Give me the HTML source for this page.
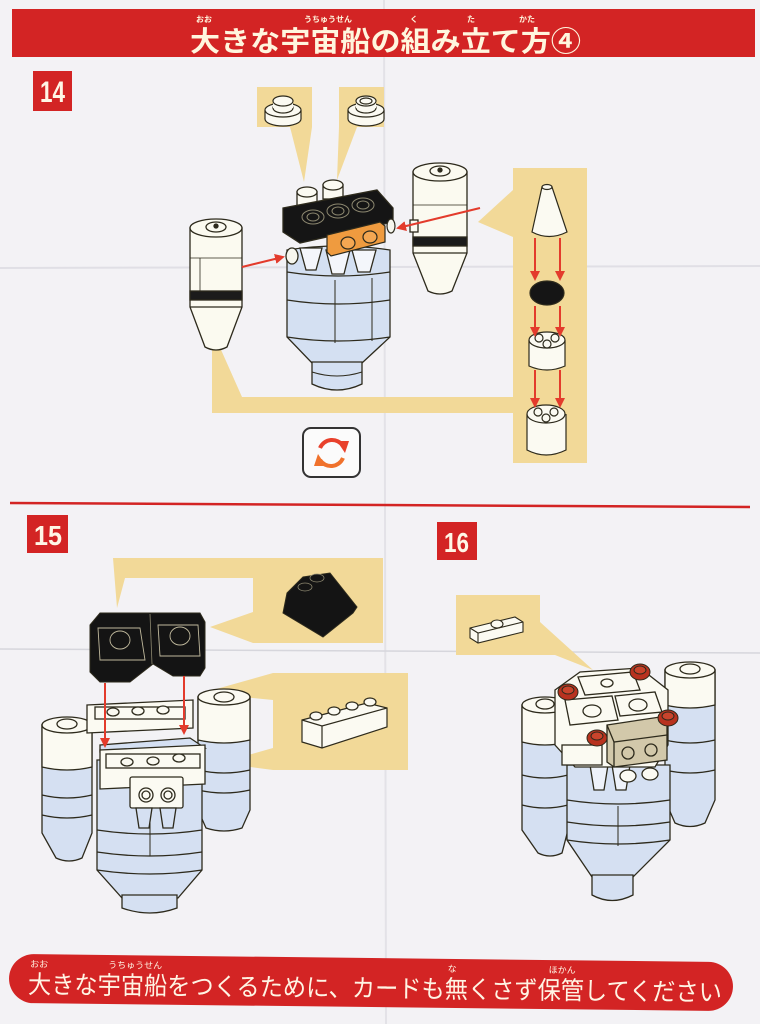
<!DOCTYPE html>
<html><head><meta charset="utf-8">
<style>
html,body{margin:0;padding:0;background:#f3f2f5;}
svg{display:block;}
</style></head><body>
<svg width="760" height="1024" viewBox="0 0 760 1024" xmlns="http://www.w3.org/2000/svg" font-family="'Liberation Sans','Noto Sans CJK JP',sans-serif">
<defs>
<marker id="ah" viewBox="0 0 10 10" refX="8" refY="5" markerWidth="5" markerHeight="5" orient="auto"><path d="M0,0 L10,5 L0,10 Z" fill="#e33b2c"/></marker>
</defs>
<rect width="760" height="1024" fill="#f3f2f5"/>
<!-- fold lines -->
<line x1="384" y1="0" x2="386" y2="1024" stroke="#e3e2e7" stroke-width="2"/>
<line x1="0" y1="268" x2="760" y2="266" stroke="#e0dfe5" stroke-width="2"/>
<line x1="0" y1="649" x2="760" y2="653" stroke="#d6d6dc" stroke-width="1.5"/>

<!-- HEADER -->
<rect x="12" y="9" width="743" height="48" fill="#d32424"/>
<text x="190" y="51" font-size="28" font-weight="bold" fill="#fff6de" textLength="391" lengthAdjust="spacingAndGlyphs" font-family="'Noto Sans CJK JP',sans-serif">大きな宇宙船の組み立て方④</text>
<g font-size="8" fill="#fff6de" text-anchor="middle" font-family="'Noto Sans CJK JP',sans-serif" font-weight="bold">
<text x="204" y="22">おお</text>
<text x="328" y="22">うちゅうせん</text>
<text x="414" y="22">く</text>
<text x="471" y="22">た</text>
<text x="527" y="22">かた</text>
</g>

<!-- badges -->
<rect x="33" y="71" width="39" height="40" fill="#d32424"/>
<text x="40" y="102" font-size="30" font-weight="bold" fill="#fff6e6" textLength="25" lengthAdjust="spacingAndGlyphs">14</text>
<rect x="27" y="515" width="41" height="38" fill="#d32424"/>
<text x="34" y="545" font-size="28" font-weight="bold" fill="#fff6e6" textLength="28" lengthAdjust="spacingAndGlyphs">15</text>
<rect x="437" y="522" width="40" height="38" fill="#d32424"/>
<text x="444" y="552" font-size="28" font-weight="bold" fill="#fff6e6" textLength="25" lengthAdjust="spacingAndGlyphs">16</text>

<!-- separator -->
<line x1="10" y1="503" x2="750" y2="507" stroke="#d32424" stroke-width="2.5"/>

<!-- ===== PANEL 14 ===== -->
<g fill="#f2d998">
<rect x="257" y="87" width="55" height="40"/>
<polygon points="290,127 312,127 304,182"/>
<rect x="339" y="87" width="45" height="40"/>
<polygon points="339,127 357,127 337,180"/>
<rect x="513" y="168" width="74" height="295"/>
<polygon points="513,190 478,222 513,237"/>
<polygon points="212,343 218,343 242,397 513,397 513,413 212,413"/>
</g>
<g stroke="#2d2a1c" stroke-width="1.2" fill="#fbfaf2">
<ellipse cx="283" cy="119" rx="18" ry="7"/>
<rect x="265" y="110" width="36" height="9" stroke="none"/>
<line x1="265" y1="110" x2="265" y2="119"/><line x1="301" y1="110" x2="301" y2="119"/>
<ellipse cx="283" cy="110" rx="18" ry="7"/>
<ellipse cx="283" cy="108" rx="10" ry="5"/>
<rect x="273" y="101" width="20" height="7" stroke="none"/>
<ellipse cx="283" cy="101" rx="10" ry="5"/>
<ellipse cx="366" cy="119" rx="18" ry="7"/>
<rect x="348" y="110" width="36" height="9" stroke="none"/>
<line x1="348" y1="110" x2="348" y2="119"/><line x1="384" y1="110" x2="384" y2="119"/>
<ellipse cx="366" cy="110" rx="18" ry="7"/>
<ellipse cx="366" cy="108" rx="10" ry="5"/>
<rect x="356" y="101" width="20" height="7" stroke="none"/>
<ellipse cx="366" cy="101" rx="10" ry="5"/>
<ellipse cx="366" cy="101" rx="6" ry="3"/>
</g>

<!-- left booster 14 -->
<g stroke="#2d2a1c" stroke-width="1.3">
<path d="M190,228 L190,307 L205,347 Q216,353 227,347 L242,307 L242,228 Z" fill="#fbfaf0"/>
<rect x="190" y="291" width="52" height="9" fill="#1b1b1b"/>
<line x1="190" y1="307" x2="242" y2="307"/>
<line x1="190" y1="258" x2="242" y2="258" stroke-width="0.8"/>
<line x1="200" y1="258" x2="200" y2="291" stroke-width="0.8"/>
<ellipse cx="216" cy="228" rx="26" ry="9" fill="#fbfaf0"/>
<ellipse cx="216" cy="227" rx="10" ry="5" fill="#fbfaf0"/>
<circle cx="216" cy="226" r="2" fill="#2d2a1c"/>
</g>
<!-- right booster 14 -->
<g stroke="#2d2a1c" stroke-width="1.3">
<path d="M413,172 L413,253 L428,291 Q440,297 452,291 L467,253 L467,172 Z" fill="#fbfaf0"/>
<rect x="413" y="237" width="54" height="9" fill="#1b1b1b"/>
<line x1="413" y1="253" x2="467" y2="253"/>
<line x1="413" y1="205" x2="467" y2="205" stroke-width="0.8"/>
<ellipse cx="440" cy="172" rx="27" ry="9" fill="#fbfaf0"/>
<ellipse cx="440" cy="171" rx="10" ry="5" fill="#fbfaf0"/>
<circle cx="440" cy="170" r="2" fill="#2d2a1c"/>
<rect x="410" y="220" width="8" height="12" fill="#fbfaf0"/>
</g>
<!-- central body 14 -->
<g stroke="#2d2a1c" stroke-width="1.3">
<path d="M287,250 Q338,242 390,250 L390,337 L362,363 L312,363 L287,337 Z" fill="#d4e0f2"/>
<path d="M287,272 Q338,280 390,272" fill="none"/>
<path d="M287,300 Q338,308 390,300" fill="none"/>
<path d="M287,337 Q338,345 390,337" fill="none"/>
<line x1="335" y1="280" x2="335" y2="343" stroke-width="1"/>
<line x1="372" y1="278" x2="372" y2="341" stroke-width="1"/>
<path d="M312,362 L362,362 L362,384 Q337,396 312,384 Z" fill="#d4e0f2"/>
<path d="M312,372 Q337,380 362,372" fill="none" stroke-width="1"/>
<polygon points="300,248 322,248 316,270 306,270" fill="#f4f6fb"/>
<polygon points="326,250 350,250 344,274 332,274" fill="#f4f6fb"/>
<polygon points="352,250 376,250 370,272 358,272" fill="#f4f6fb"/>
<ellipse cx="292" cy="256" rx="6" ry="8" fill="#f6f6ee"/>
<rect x="297" y="192" width="20" height="14" fill="#fbfaf2"/>
<ellipse cx="307" cy="192" rx="10" ry="5" fill="#fbfaf2"/>
<rect x="323" y="185" width="20" height="14" fill="#fbfaf2"/>
<ellipse cx="333" cy="185" rx="10" ry="5" fill="#fbfaf2"/>
<path d="M283,208 L377,190 L393,208 L393,222 L300,243 L283,232 Z" fill="#151515"/>
</g>
<g stroke="#8d8870" stroke-width="1" fill="#151515">
<ellipse cx="313" cy="217" rx="11" ry="7"/><ellipse cx="313" cy="217" rx="6" ry="4"/>
<ellipse cx="338" cy="211" rx="11" ry="7"/><ellipse cx="338" cy="211" rx="6" ry="4"/>
<ellipse cx="363" cy="205" rx="11" ry="7"/><ellipse cx="363" cy="205" rx="6" ry="4"/>
</g>
<g stroke="#2d2a1c" stroke-width="1.2">
<path d="M327,235 L380,222 L385,226 L385,242 L331,256 L327,252 Z" fill="#ef9b3f"/>
<ellipse cx="348" cy="243" rx="7" ry="6" fill="#f4a752"/>
<ellipse cx="370" cy="237" rx="7" ry="6" fill="#f4a752"/>
<ellipse cx="391" cy="226" rx="4" ry="7" fill="#f6f6ee"/>
</g>
<!-- right column parts -->
<g stroke="#2d2a1c" stroke-width="1.2">
<path d="M542,187 L552,187 L567,232 Q549,241 532,232 Z" fill="#fbfaf2"/>
<ellipse cx="547" cy="187" rx="5" ry="2.5" fill="#fbfaf2"/>
<ellipse cx="547" cy="293" rx="17" ry="12" fill="#151515"/>
<rect x="529" y="340" width="36" height="26" fill="#fbfaf2" stroke="none"/>
<path d="M529,340 L529,366 Q547,374 565,366 L565,340" fill="#fbfaf2"/>
<ellipse cx="547" cy="340" rx="18" ry="8" fill="#fbfaf2"/>
<circle cx="539" cy="338" r="4" fill="#fbfaf2"/><circle cx="555" cy="338" r="4" fill="#fbfaf2"/>
<circle cx="547" cy="344" r="4" fill="#fbfaf2"/>
<path d="M527,414 L527,450 Q546,460 566,450 L566,414" fill="#fbfaf2"/>
<ellipse cx="546" cy="414" rx="19" ry="9" fill="#fbfaf2"/>
<circle cx="538" cy="412" r="4" fill="#fbfaf2"/><circle cx="554" cy="412" r="4" fill="#fbfaf2"/>
<circle cx="546" cy="418" r="4" fill="#fbfaf2"/>
</g>
<g stroke="#e33b2c" stroke-width="2" marker-end="url(#ah)">
<line x1="242" y1="267" x2="283" y2="257"/>
<line x1="480" y1="208" x2="398" y2="228"/>
<line x1="535" y1="238" x2="535" y2="279"/><line x1="560" y1="238" x2="560" y2="279"/>
<line x1="535" y1="306" x2="535" y2="335"/><line x1="560" y1="306" x2="560" y2="335"/>
<line x1="535" y1="370" x2="535" y2="406"/><line x1="560" y1="370" x2="560" y2="406"/>
</g>
<!-- sync icon -->
<rect x="303" y="428" width="57" height="49" rx="8" fill="#fbfbfb" stroke="#333" stroke-width="2"/>
<path d="M320,448 A13,13 0 0 1 343,446" fill="none" stroke="#e8412c" stroke-width="4"/>
<polygon points="337,441 349,441 345,453" fill="#e8412c"/>
<path d="M343,458 A13,13 0 0 1 320,460" fill="none" stroke="#f0722c" stroke-width="4"/>
<polygon points="326,466 314,466 318,454" fill="#f0722c"/>

<!-- ===== PANEL 15 ===== -->
<g fill="#f2d998">
<polygon points="113,558 253,558 253,578 125,578 117,608"/>
<rect x="253" y="558" width="130" height="85"/>
<polygon points="253,612 210,627 253,643"/>
<rect x="273" y="673" width="135" height="97"/>
<polygon points="273,673 202,693 273,700"/>
<polygon points="273,748 220,763 273,770"/>
</g>
<path d="M287,593 L303,577 L330,573 L357,607 L353,613 L323,637 L283,613 Z" fill="#141414" stroke="#2d2a1c"/>
<g fill="#141414" stroke="#8d8870" stroke-width="0.8">
<ellipse cx="317" cy="578" rx="7" ry="4"/><ellipse cx="305" cy="587" rx="7" ry="4"/>
</g>
<g stroke="#2d2a1c" stroke-width="1.2" fill="#fbfaf2">
<path d="M302,720 L367,703 L387,708 L387,727 L322,748 L302,742 Z"/>
<path d="M302,720 L322,726 L387,708" fill="none"/>
<line x1="322" y1="726" x2="322" y2="748"/>
<ellipse cx="316" cy="716" rx="6" ry="4"/><ellipse cx="334" cy="711" rx="6" ry="4"/>
<ellipse cx="352" cy="706" rx="6" ry="4"/><ellipse cx="370" cy="702" rx="6" ry="4"/>
</g>
<path d="M90,625 L100,613 L200,613 L205,622 L205,668 L200,676 L173,676 L153,664 L130,682 L100,682 L90,672 Z" fill="#141414" stroke="#2d2a1c"/>
<line x1="150" y1="614" x2="152" y2="664" stroke="#8d8870" stroke-width="0.8"/>
<g fill="none" stroke="#bfb89c" stroke-width="0.9">
<ellipse cx="120" cy="640" rx="10" ry="9"/><ellipse cx="180" cy="636" rx="10" ry="9"/>
<path d="M98,628 L140,628 L145,660 L100,660 Z"/><path d="M158,625 L198,625 L200,656 L160,656 Z"/>
</g>
<g stroke="#2d2a1c" stroke-width="1.3">
<path d="M198,697 L198,810 L206,828 Q224,834 242,828 L250,810 L250,697 Z" fill="#d5e0f2"/>
<path d="M198,697 L198,740 Q224,746 250,740 L250,697 Z" fill="#fbfaf2"/>
<path d="M198,770 Q224,776 250,770" fill="none"/>
<path d="M198,790 Q224,796 250,790" fill="none"/>
<ellipse cx="224" cy="697" rx="26" ry="8" fill="#fbfaf2"/>
<ellipse cx="224" cy="697" rx="10" ry="5" fill="#fbfaf2"/>
<path d="M97,760 L202,760 L202,870 L178,898 L122,898 L97,870 Z" fill="#d5e0f2"/>
<path d="M97,830 Q150,838 202,830" fill="none"/>
<path d="M97,852 Q150,860 202,852" fill="none"/>
<path d="M97,870 Q150,878 202,870" fill="none"/>
<line x1="150" y1="812" x2="150" y2="856" stroke-width="1"/>
<path d="M122,895 L177,895 L177,908 Q150,918 122,908 Z" fill="#d5e0f2"/>
<path d="M42,725 L42,833 L56,858 Q69,864 82,858 L92,833 L92,725 Z" fill="#d5e0f2"/>
<path d="M42,725 L42,767 Q67,773 92,767 L92,725 Z" fill="#fbfaf2"/>
<path d="M42,795 Q67,801 92,795" fill="none"/>
<path d="M42,815 Q67,821 92,815" fill="none"/>
<ellipse cx="67" cy="725" rx="25" ry="8" fill="#fbfaf2"/>
<ellipse cx="67" cy="724" rx="10" ry="5" fill="#fbfaf2"/>
<path d="M87,705 L193,700 L193,728 L87,733 Z" fill="#fbfaf2"/>
<rect x="95" y="707" width="90" height="12" fill="#fbfaf2"/>
<ellipse cx="113" cy="712" rx="6" ry="4" fill="#fbfaf2"/><ellipse cx="138" cy="711" rx="6" ry="4" fill="#fbfaf2"/><ellipse cx="163" cy="710" rx="6" ry="4" fill="#fbfaf2"/>
<path d="M100,745 L190,738 L205,748 L100,752 Z" fill="#d5e0f2"/>
<path d="M100,750 L205,745 L205,784 L100,789 Z" fill="#fbfaf2"/>
<rect x="106" y="754" width="94" height="14" fill="#fbfaf2"/>
<ellipse cx="127" cy="762" rx="6" ry="4" fill="#fbfaf2"/><ellipse cx="153" cy="761" rx="6" ry="4" fill="#fbfaf2"/><ellipse cx="179" cy="758" rx="6" ry="4" fill="#fbfaf2"/>
<rect x="130" y="777" width="53" height="31" rx="2" fill="#fbfaf2"/>
<circle cx="146" cy="795" r="7" fill="#fbfaf2"/><circle cx="146" cy="795" r="4" fill="none"/>
<circle cx="168" cy="795" r="7" fill="#fbfaf2"/><circle cx="168" cy="795" r="4" fill="none"/>
<polygon points="136,808 152,808 149,828 139,828" fill="#d5e0f2"/>
<polygon points="160,808 176,808 173,828 163,828" fill="#d5e0f2"/>
</g>
<g stroke="#e33b2c" stroke-width="2" marker-end="url(#ah)">
<line x1="105" y1="683" x2="105" y2="746"/>
<line x1="184" y1="676" x2="184" y2="733"/>
</g>

<!-- ===== PANEL 16 ===== -->
<polygon points="456,595 540,595 540,622 593,670 555,655 456,655" fill="#f2d998"/>
<g stroke="#2d2a1c" stroke-width="1.1" fill="#fbfaf2">
<path d="M470,628 L515,617 L523,622 L523,632 L478,643 L470,638 Z"/>
<path d="M470,628 L478,633 L523,622" fill="none"/>
<line x1="478" y1="633" x2="478" y2="643"/>
<ellipse cx="497" cy="624" rx="6" ry="4"/>
</g>
<g stroke="#2d2a1c" stroke-width="1.3">
<path d="M665,670 L665,800 L675,823 Q690,830 705,823 L715,800 L715,670 Z" fill="#d5e0f2"/>
<path d="M665,670 L665,705 Q690,711 715,705 L715,670 Z" fill="#fbfaf2"/>
<path d="M665,740 Q690,746 715,740" fill="none"/>
<path d="M665,770 Q690,776 715,770" fill="none"/>
<ellipse cx="690" cy="670" rx="25" ry="8" fill="#fbfaf2"/>
<ellipse cx="690" cy="669" rx="10" ry="5" fill="#fbfaf2"/>
<path d="M522,705 L522,830 L538,853 Q550,859 562,853 L568,830 L568,705 Z" fill="#d5e0f2"/>
<path d="M522,705 L522,742 Q545,748 568,742 L568,705 Z" fill="#fbfaf2"/>
<path d="M522,775 Q545,781 568,775" fill="none"/>
<path d="M522,805 Q545,811 568,805" fill="none"/>
<ellipse cx="545" cy="705" rx="23" ry="8" fill="#fbfaf2"/>
<ellipse cx="545" cy="704" rx="9" ry="5" fill="#fbfaf2"/>
<path d="M567,765 L670,765 L670,840 L633,877 L592,877 L567,840 Z" fill="#d5e0f2"/>
<path d="M567,800 Q618,808 670,800" fill="none"/>
<path d="M567,822 Q618,830 670,822" fill="none"/>
<path d="M567,840 Q618,848 670,840" fill="none"/>
<line x1="618" y1="806" x2="618" y2="846" stroke-width="1"/>
<path d="M592,875 L633,875 L633,895 Q612,906 592,895 Z" fill="#d5e0f2"/>
<polygon points="590,765 608,765 604,790 594,790" fill="#eef2fa"/>
<polygon points="612,765 630,765 626,790 616,790" fill="#eef2fa"/>
<path d="M555,690 L580,672 L640,668 L668,690 L668,745 L655,767 L575,767 L555,745 Z" fill="#fbfaf2"/>
<path d="M578,677 L633,672 L640,690 L585,695 Z" fill="#fbfaf2"/>
<ellipse cx="607" cy="683" rx="6" ry="4" fill="#fbfaf2"/>
<path d="M565,700 L612,696 L618,720 L570,725 Z" fill="#fbfaf2"/>
<ellipse cx="592" cy="711" rx="9" ry="6" fill="#fbfaf2"/>
<path d="M615,696 L655,692 L662,712 L620,716 Z" fill="#fbfaf2"/>
<ellipse cx="638" cy="705" rx="9" ry="6" fill="#fbfaf2"/>
<rect x="562" y="745" width="40" height="20" fill="#fbfaf2"/>
<path d="M607,725 L660,717 L667,722 L667,760 L614,767 L607,762 Z" fill="#d2c8aa"/>
<path d="M607,725 L614,742 L667,735" fill="none"/>
<line x1="614" y1="742" x2="614" y2="767"/>
<circle cx="628" cy="753" r="6" fill="#d2c8aa"/><circle cx="651" cy="750" r="6" fill="#d2c8aa"/>
<ellipse cx="628" cy="776" rx="8" ry="6" fill="#fbfaf2"/><ellipse cx="650" cy="774" rx="8" ry="6" fill="#fbfaf2"/>
</g>
<g fill="#b8321f" stroke="#2d2a1c" stroke-width="1">
<ellipse cx="568" cy="692" rx="10" ry="8"/><ellipse cx="568" cy="690" rx="6" ry="4" fill="#c9442c"/>
<ellipse cx="640" cy="672" rx="10" ry="8"/><ellipse cx="640" cy="670" rx="6" ry="4" fill="#c9442c"/>
<ellipse cx="668" cy="718" rx="10" ry="8"/><ellipse cx="668" cy="716" rx="6" ry="4" fill="#c9442c"/>
<ellipse cx="597" cy="738" rx="10" ry="8"/><ellipse cx="597" cy="736" rx="6" ry="4" fill="#c9442c"/>
</g>

<!-- FOOTER -->
<g transform="rotate(0.65 370 983)">
<rect x="9" y="958" width="724" height="49" rx="24.5" fill="#d32424"/>
<text x="28" y="997" font-size="25" fill="#fff4e4" textLength="694" lengthAdjust="spacingAndGlyphs" font-family="'Noto Sans CJK JP',sans-serif">大きな宇宙船をつくるために、カードも無くさず保管してください</text>
<g font-size="9" fill="#fff4e4" text-anchor="middle" font-family="'Noto Sans CJK JP',sans-serif">
<text x="39" y="971">おお</text>
<text x="135" y="971">うちゅうせん</text>
<text x="452" y="971">な</text>
<text x="562" y="971">ほかん</text>
</g>
</g>
</svg>
</body></html>
